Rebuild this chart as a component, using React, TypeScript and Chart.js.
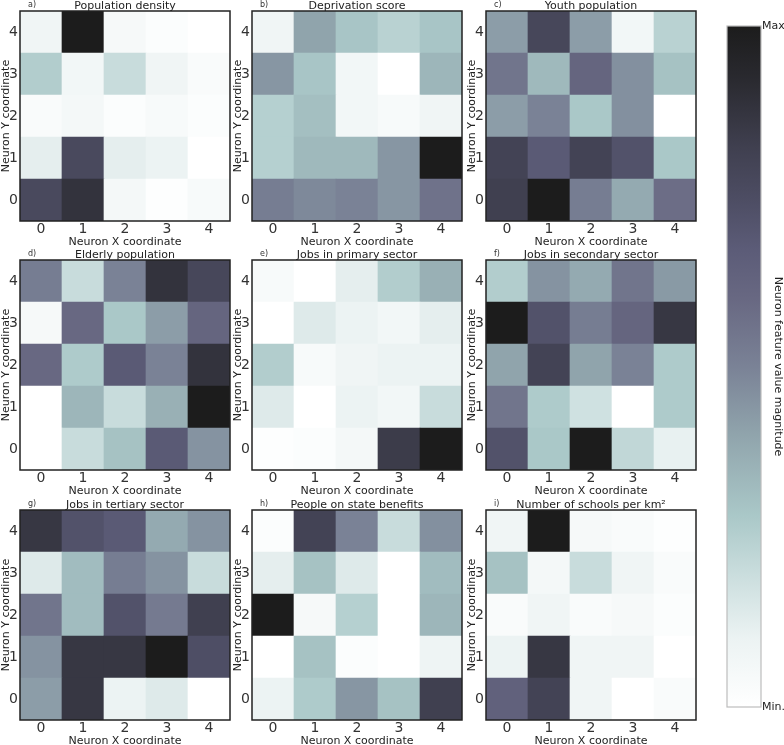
import React, { useEffect, useRef } from "react";
import { Chart, registerables } from "chart.js";

Chart.register(...registerables);

// ---------- data (rows listed from Y=0 upward, columns X=0..4) ----------
const xLabels = ["0", "1", "2", "3", "4"];
const yLabels = ["0", "1", "2", "3", "4"];
const colorbarLabels = ["Min.", "Max"];

const panelLetters = ["a)", "b)", "c)", "d)", "e)", "f)", "g)", "h)", "i)"];
const panelTitles = [
  "Population density",
  "Deprivation score",
  "Youth population",
  "Elderly population",
  "Jobs in primary sector",
  "Jobs in secondary sector",
  "Jobs in tertiary sector",
  "People on state benefits",
  "Number of schools per km\u00B2",
];

const populationDensity = [
  [0.77, 0.88, 0.06, 0.01, 0.04],
  [0.12, 0.77, 0.12, 0.1, 0.0],
  [0.03, 0.06, 0.02, 0.04, 0.02],
  [0.26, 0.07, 0.2, 0.08, 0.03],
  [0.08, 1.0, 0.05, 0.02, 0.0],
];
const deprivationScore = [
  [0.52, 0.48, 0.5, 0.44, 0.56],
  [0.25, 0.33, 0.33, 0.44, 1.0],
  [0.25, 0.31, 0.07, 0.04, 0.08],
  [0.44, 0.29, 0.07, 0.0, 0.34],
  [0.08, 0.4, 0.29, 0.24, 0.29],
];
const youthPopulation = [
  [0.82, 1.0, 0.52, 0.38, 0.58],
  [0.8, 0.68, 0.8, 0.72, 0.28],
  [0.42, 0.5, 0.28, 0.46, 0.0],
  [0.55, 0.33, 0.62, 0.46, 0.3],
  [0.42, 0.78, 0.42, 0.07, 0.24],
];
const elderlyPopulation = [
  [0.0, 0.2, 0.3, 0.68, 0.45],
  [0.0, 0.34, 0.2, 0.36, 1.0],
  [0.6, 0.27, 0.68, 0.5, 0.88],
  [0.05, 0.6, 0.28, 0.42, 0.62],
  [0.52, 0.2, 0.5, 0.88, 0.78],
];
const primaryJobs = [
  [0.01, 0.02, 0.06, 0.84, 1.0],
  [0.14, 0.0, 0.1, 0.07, 0.2],
  [0.26, 0.04, 0.08, 0.1, 0.1],
  [0.0, 0.14, 0.1, 0.07, 0.12],
  [0.04, 0.0, 0.12, 0.26, 0.36],
];
const secondaryJobs = [
  [0.72, 0.28, 1.0, 0.22, 0.11],
  [0.55, 0.27, 0.18, 0.0, 0.27],
  [0.4, 0.8, 0.4, 0.5, 0.27],
  [1.0, 0.72, 0.52, 0.62, 0.86],
  [0.26, 0.45, 0.38, 0.55, 0.43],
];
const tertiaryJobs = [
  [0.42, 0.86, 0.1, 0.14, 0.0],
  [0.45, 0.86, 0.86, 1.0, 0.74],
  [0.55, 0.32, 0.72, 0.53, 0.82],
  [0.14, 0.32, 0.52, 0.45, 0.2],
  [0.86, 0.72, 0.68, 0.38, 0.45],
];
const stateBenefits = [
  [0.1, 0.27, 0.44, 0.3, 0.82],
  [0.0, 0.3, 0.02, 0.0, 0.09],
  [1.0, 0.05, 0.25, 0.0, 0.34],
  [0.12, 0.3, 0.14, 0.0, 0.32],
  [0.02, 0.8, 0.5, 0.2, 0.46],
];
const schoolsPerKm2 = [
  [0.64, 0.8, 0.08, 0.0, 0.03],
  [0.1, 0.86, 0.08, 0.08, 0.0],
  [0.03, 0.08, 0.03, 0.05, 0.02],
  [0.3, 0.06, 0.2, 0.08, 0.03],
  [0.08, 1.0, 0.05, 0.03, 0.01],
];

const panelValues = [
  populationDensity,
  deprivationScore,
  youthPopulation,
  elderlyPopulation,
  primaryJobs,
  secondaryJobs,
  tertiaryJobs,
  stateBenefits,
  schoolsPerKm2,
];

// ---------- colour map (min -> max) ----------
const cmapStops: [number, [number, number, number]][] = [
  [0.0, [255, 255, 255]],
  [0.1, [236, 243, 243]],
  [0.2, [200, 220, 220]],
  [0.28, [170, 200, 200]],
  [0.4, [144, 164, 172]],
  [0.5, [122, 130, 150]],
  [0.6, [104, 104, 130]],
  [0.67, [92, 92, 120]],
  [0.75, [76, 76, 98]],
  [0.82, [64, 64, 80]],
  [0.92, [42, 42, 48]],
  [1.0, [28, 28, 28]],
];

function cmap(t: number): string {
  const v = Math.max(0, Math.min(1, t));
  for (let i = 1; i < cmapStops.length; i++) {
    const [t1, c1] = cmapStops[i];
    const [t0, c0] = cmapStops[i - 1];
    if (v <= t1) {
      const f = (v - t0) / (t1 - t0 || 1);
      const c = c0.map((a, k) => Math.round(a + (c1[k] - a) * f));
      return `rgb(${c[0]},${c[1]},${c[2]})`;
    }
  }
  return "rgb(28,28,28)";
}

// ---------- layout ----------
const FONT = "'DejaVu Sans', Verdana, sans-serif";
const PLOT = 210;
const Y_AXIS_W = 20;
const X_AXIS_H = 28;
const TOP_PAD = 14;
const RIGHT_PAD = 2;
const colLefts = [20, 252, 486];
const rowTops = [11, 260, 510];

const framePlugin = {
  id: "frameAndTitle",
  afterDraw(chart: any, _args: any, opts: any) {
    const { ctx, chartArea } = chart;
    ctx.save();
    ctx.strokeStyle = opts.frameColor || "#222";
    ctx.lineWidth = opts.frameWidth || 1.5;
    ctx.strokeRect(chartArea.left, chartArea.top, chartArea.right - chartArea.left, chartArea.bottom - chartArea.top);
    if (opts.title) {
      ctx.fillStyle = "#222";
      ctx.font = `11px ${FONT}`;
      ctx.textAlign = "center";
      ctx.textBaseline = "alphabetic";
      ctx.fillText(opts.title, (chartArea.left + chartArea.right) / 2, chartArea.top - 2);
    }
    if (opts.letter) {
      ctx.fillStyle = "#333";
      ctx.font = `8px ${FONT}`;
      ctx.textAlign = "left";
      ctx.fillText(opts.letter, chartArea.left + 8, chartArea.top - 4);
    }
    ctx.restore();
  },
};

function Panel({ index }: { index: number }) {
  const ref = useRef<HTMLCanvasElement>(null);
  const col = index % 3;
  const row = Math.floor(index / 3);
  const width = Y_AXIS_W + PLOT + RIGHT_PAD;
  const height = TOP_PAD + PLOT + X_AXIS_H;
  const left = colLefts[col] - Y_AXIS_W;
  const top = rowTops[row] - TOP_PAD;

  useEffect(() => {
    const values = panelValues[index];
    const chart = new Chart(ref.current!, {
      type: "bar",
      data: {
        labels: xLabels,
        datasets: yLabels.map((_l, y) => ({
          label: "Y " + yLabels[y],
          data: values[y].map(() => 1),
          backgroundColor: values[y].map((v) => cmap(v)),
          borderWidth: 0,
          barPercentage: 1,
          categoryPercentage: 1,
          stack: "grid",
        })),
      },
      options: {
        responsive: false,
        animation: false,
        events: [],
        layout: { padding: { top: TOP_PAD, right: RIGHT_PAD, left: 0, bottom: 0 } },
        plugins: {
          legend: { display: false },
          tooltip: { enabled: false },
          frameAndTitle: { title: panelTitles[index], letter: panelLetters[index] },
        } as any,
        scales: {
          x: {
            type: "category",
            stacked: true,
            offset: true,
            grid: { display: false, drawTicks: false },
            border: { display: false },
            ticks: { color: "#333", font: { family: FONT, size: 14 }, padding: 0, maxRotation: 0 },
            title: { display: true, text: "Neuron X coordinate", color: "#222", font: { family: FONT, size: 11 }, padding: 0 },
            afterFit: (s: any) => {
              s.height = X_AXIS_H;
            },
          },
          y: {
            type: "linear",
            stacked: true,
            min: 0,
            max: 5,
            grid: { display: false, drawTicks: false },
            border: { display: false },
            afterBuildTicks: (s: any) => {
              s.ticks = yLabels.map((_l, i) => ({ value: i + 0.5 }));
            },
            ticks: {
              color: "#333",
              font: { family: FONT, size: 14 },
              padding: 2,
              callback: (_v: any, i: number) => yLabels[i],
            },
            title: { display: true, text: "Neuron Y coordinate", color: "#222", font: { family: FONT, size: 11 }, padding: 0 },
            afterFit: (s: any) => {
              s.width = Y_AXIS_W;
            },
          },
        },
      },
      plugins: [framePlugin],
    });
    return () => chart.destroy();
  }, [index]);

  return (
    <canvas
      ref={ref}
      width={width}
      height={height}
      style={{ position: "absolute", left, top, width, height }}
    />
  );
}

function Colorbar() {
  const ref = useRef<HTMLCanvasElement>(null);
  const left = 720;
  const width = 64;
  const height = 745;
  useEffect(() => {
    const chart = new Chart(ref.current!, {
      type: "bar",
      data: {
        labels: ["scale"],
        datasets: [
          {
            data: [1],
            backgroundColor: (ctx: any) => {
              const area = ctx.chart.chartArea;
              if (!area) return cmap(0.5);
              const g = ctx.chart.ctx.createLinearGradient(0, area.bottom, 0, area.top);
              cmapStops.forEach(([t]) => g.addColorStop(t, cmap(t)));
              return g;
            },
            borderWidth: 0,
            barPercentage: 1,
            categoryPercentage: 1,
          },
        ],
      },
      options: {
        responsive: false,
        animation: false,
        events: [],
        layout: { padding: { top: 26, bottom: 38, left: 7, right: 0 } },
        plugins: {
          legend: { display: false },
          tooltip: { enabled: false },
          frameAndTitle: { frameColor: "#bdbdbd", frameWidth: 1.2 },
        } as any,
        scales: {
          x: { display: false, offset: true },
          y: {
            position: "right",
            min: 0,
            max: 1,
            grid: { display: false, drawTicks: false },
            border: { display: false },
            afterBuildTicks: (s: any) => {
              s.ticks = colorbarLabels.map((_l, i) => ({ value: i }));
            },
            ticks: {
              color: "#222",
              font: { family: FONT, size: 11 },
              padding: 1,
              callback: (_v: any, i: number) => colorbarLabels[i],
            },
            title: {
              display: true,
              text: "Neuron feature value magnitude",
              color: "#222",
              font: { family: FONT, size: 11 },
              padding: 0,
            },
            afterFit: (s: any) => {
              s.width = 23;
            },
          },
        },
      },
      plugins: [framePlugin],
    });
    return () => chart.destroy();
  }, []);
  return (
    <canvas
      ref={ref}
      width={width}
      height={height}
      style={{ position: "absolute", left, top: 0, width, height }}
    />
  );
}

export default function App() {
  return (
    <div
      style={{
        position: "absolute",
        left: 0,
        top: 0,
        width: 784,
        height: 745,
        background: "#ffffff",
        overflow: "hidden",
      }}
    >
      {panelTitles.map((_t, i) => (
        <Panel key={i} index={i} />
      ))}
      <Colorbar />
    </div>
  );
}
